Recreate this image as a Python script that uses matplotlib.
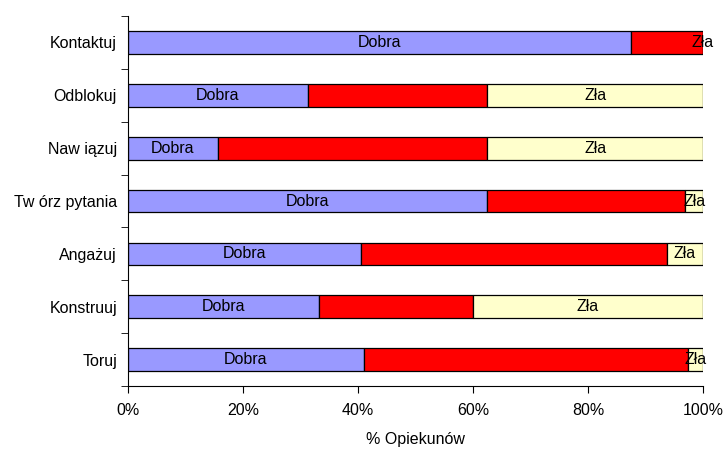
import numpy as np
import matplotlib
matplotlib.use('Agg')
from matplotlib import pyplot as plt
from matplotlib.ticker import PercentFormatter

plt.rcParams['font.family'] = ['Liberation Sans', 'DejaVu Sans']

# categories from bottom to top
categories = ['Toruj', 'Konstruuj', 'Angażuj', 'Tw órz pytania', 'Naw iązuj', 'Odblokuj', 'Kontaktuj']
dobra = [41.0, 33.3, 40.6, 62.5, 15.6, 31.25, 87.5]
srednia = [56.4, 26.7, 53.1, 34.4, 46.9, 31.25, 12.5]
zla = [2.6, 40.0, 6.3, 3.1, 37.5, 37.5, 0.0]

fs = 11.5

fig = plt.figure(figsize=(7.26, 4.5), dpi=100)
ax = fig.add_axes([0.1763, 0.1422, 0.792, 0.8222])

y = np.arange(len(categories))
h = 0.43
dobra = np.array(dobra)
srednia = np.array(srednia)
zla = np.array(zla)

ax.barh(y, dobra, height=h, color='#9999FF', edgecolor='black', linewidth=0.9)
ax.barh(y, srednia, height=h, left=dobra, color='#FF0000', edgecolor='black', linewidth=0.9)
ax.barh(y, zla, height=h, left=dobra + srednia, color='#FFFFCC', edgecolor='black', linewidth=0.9)

for i in range(len(categories)):
    ax.text(dobra[i] / 2, y[i], 'Dobra', ha='center', va='center', fontsize=fs)
    ax.text(dobra[i] + srednia[i] + zla[i] / 2, y[i], 'Zła', ha='center', va='center', fontsize=fs)

ax.set_xlim(0, 100)
ax.set_ylim(-0.5, len(categories) - 0.5)
ax.xaxis.set_major_formatter(PercentFormatter(decimals=0))
ax.set_xticks(np.arange(0, 101, 20))
ax.set_yticks(y)
ax.set_yticklabels(categories)
ax.set_yticks(np.arange(-0.5, len(categories), 1), minor=True)
ax.tick_params(axis='y', which='major', length=0, pad=8, labelsize=fs)
ax.tick_params(axis='y', which='minor', length=5, direction='out')
ax.tick_params(axis='x', length=5, direction='out', labelsize=fs, pad=7)
ax.set_xlabel('% Opiekunów', fontsize=fs, labelpad=10)

for s in ['top', 'right']:
    ax.spines[s].set_visible(False)

plt.savefig('out.png', dpi=100)
